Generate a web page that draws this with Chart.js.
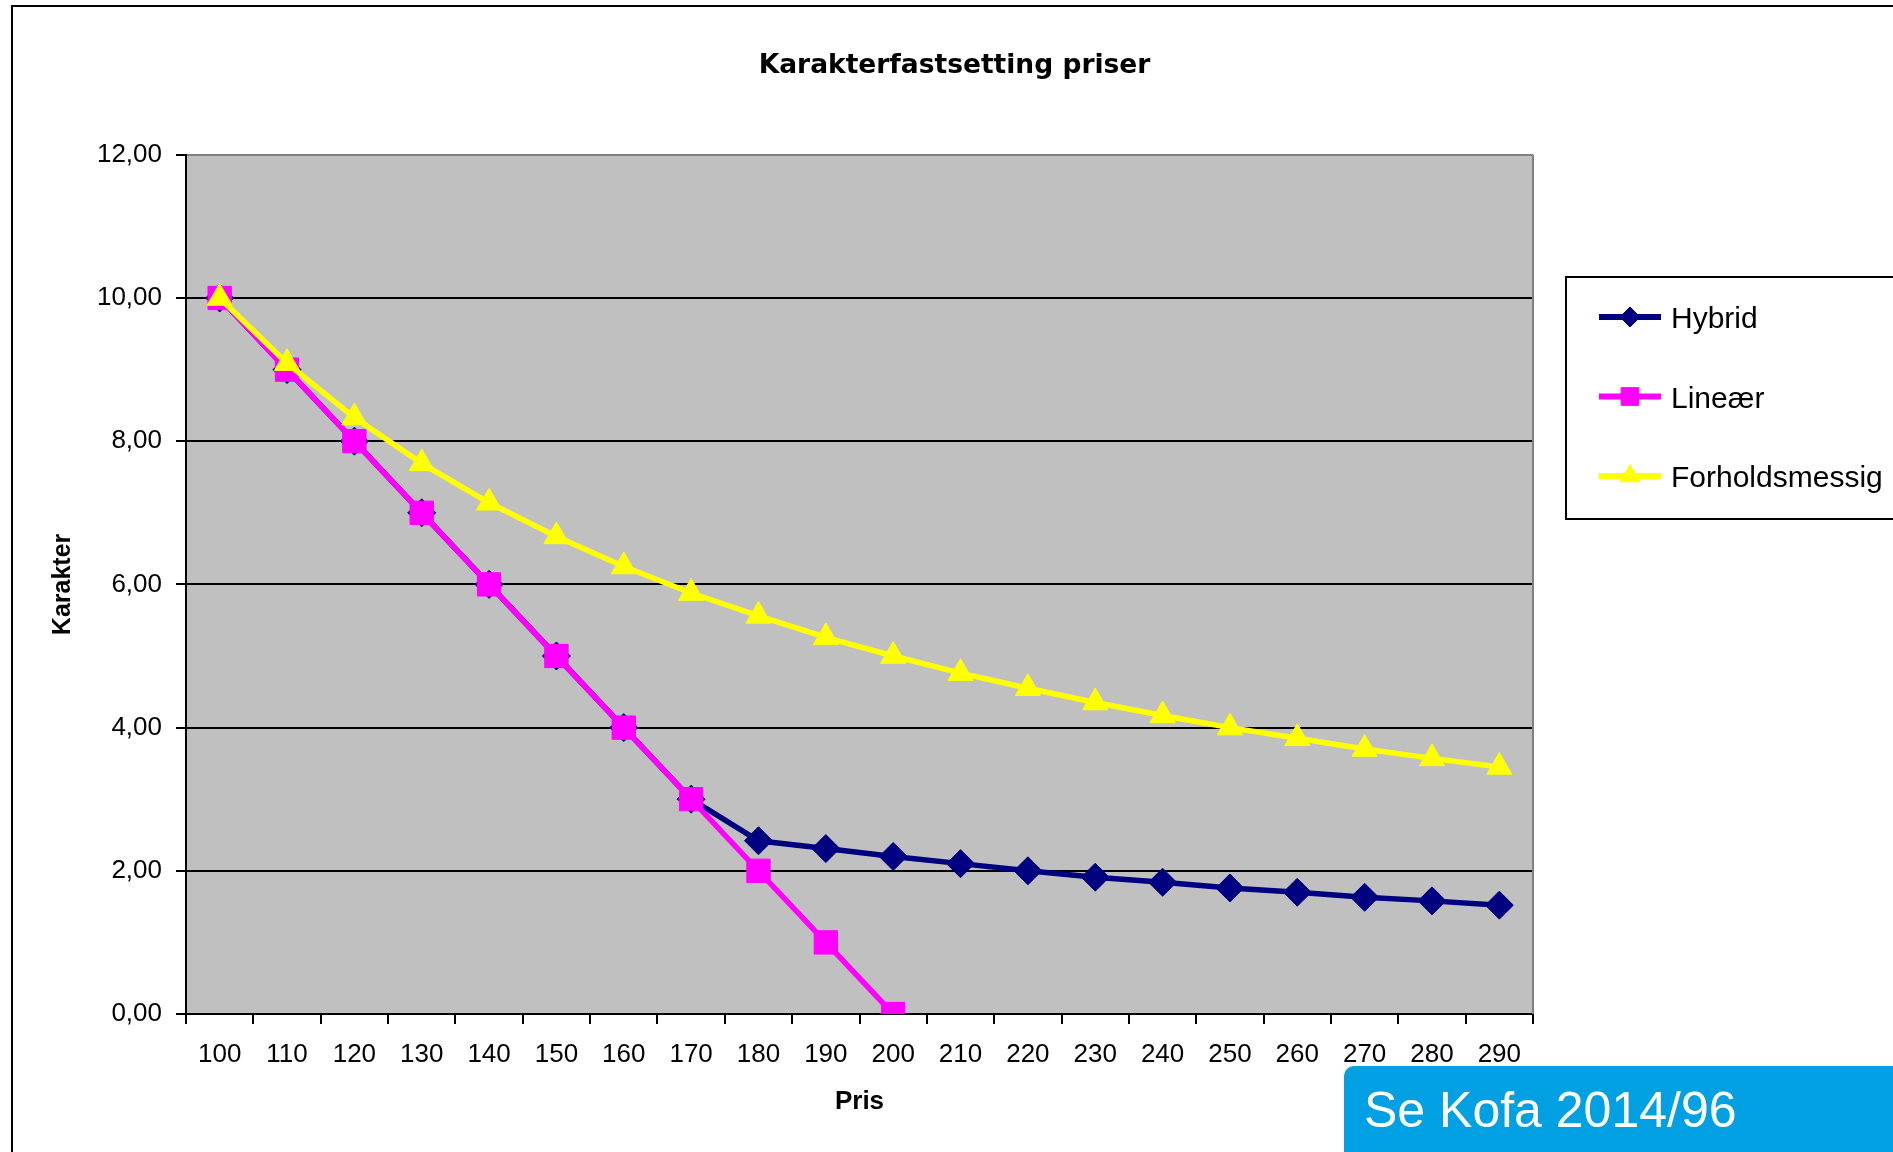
<!DOCTYPE html>
<html>
<head>
<meta charset="utf-8">
<title>Karakterfastsetting priser</title>
<script src="https://cdn.jsdelivr.net/npm/chart.js@4.4.1/dist/chart.umd.min.js"></script>
<style>
    html, body { margin: 0; padding: 0; background: #fff; overflow: hidden; }
    #wrap { position: relative; width: 1893px; height: 1152px; }
    #kofa {
        position: absolute; left: 1344px; top: 1066px; width: 600px; height: 120px;
        background: #00A0E3; border-radius: 10px;
    }
    #kofa span {
        position: absolute; left: 20px; top: 19px; color: #fff; white-space: nowrap;
        font: 50px/50px 'Liberation Sans', Arial, sans-serif;
    }
</style>
</head>
<body>
<div id="wrap">
    <canvas id="chart" width="1893" height="1152"></canvas>
    <div id="kofa"><span>Se Kofa 2014/96</span></div>
</div>
<script>
// Chart data
const prices = ['100', '110', '120', '130', '140', '150', '160', '170', '180', '190',
                '200', '210', '220', '230', '240', '250', '260', '270', '280', '290'];
const hybrid = [10, 9, 8, 7, 6, 5, 4, 3, 2.42, 2.31, 2.2, 2.1, 2.0, 1.91, 1.84, 1.76, 1.7, 1.63, 1.58, 1.52];
const linear = [10, 9, 8, 7, 6, 5, 4, 3, 2, 1, 0, null, null, null, null, null, null, null, null, null];
const ratio = [10, 9.09, 8.33, 7.69, 7.14, 6.67, 6.25, 5.88, 5.56, 5.26, 5.0, 4.76, 4.55, 4.35, 4.17, 4.0, 3.85, 3.7, 3.57, 3.45];
const yTicks = [0, 2, 4, 6, 8, 10, 12];

const FONT = "'Liberation Sans', Arial, sans-serif";

Chart.defaults.font.family = FONT;
Chart.defaults.color = '#000';

// Grey plot area, outer frame and the grey right edge of the plot
const framePlugin = {
    id: 'frame',
    beforeDraw(chart) {
        const { ctx, chartArea: a } = chart;
        ctx.save();
        ctx.fillStyle = '#C0C0C0';
        ctx.fillRect(a.left, a.top, a.right - a.left, a.bottom - a.top);
        ctx.strokeStyle = '#000';
        ctx.lineWidth = 2;
        ctx.beginPath();
        ctx.moveTo(12, chart.height + 5);
        ctx.lineTo(12, 6);
        ctx.lineTo(chart.width + 5, 6);
        ctx.stroke();
        ctx.restore();
    },
    beforeDatasetsDraw(chart) {
        const { ctx, chartArea: a } = chart;
        ctx.save();
        ctx.strokeStyle = '#808080';
        ctx.lineWidth = 2;
        ctx.beginPath();
        ctx.moveTo(a.right, a.top);
        ctx.lineTo(a.right, a.bottom);
        ctx.stroke();
        ctx.restore();
    }
};

// Boxed legend on the right, like the Excel one
const legendMarkers = [10, 12.5, 11.5];
const boxLegendPlugin = {
    id: 'boxLegend',
    afterDraw(chart) {
        const ctx = chart.ctx;
        ctx.save();
        ctx.fillStyle = '#fff';
        ctx.fillRect(1566, 277, 400, 242);
        ctx.strokeStyle = '#000';
        ctx.lineWidth = 2;
        ctx.strokeRect(1566, 277, 400, 242);

        chart.data.datasets.forEach((ds, i) => {
            const y = 317 + i * 79.5;
            ctx.strokeStyle = ds.borderColor;
            ctx.lineWidth = 6;
            ctx.beginPath();
            ctx.moveTo(1599, y);
            ctx.lineTo(1661, y);
            ctx.stroke();

            ctx.fillStyle = ds.pointBackgroundColor;
            ctx.strokeStyle = ds.pointBorderColor;
            ctx.lineWidth = 1;
            Chart.helpers.drawPoint(ctx, {
                pointStyle: ds.pointStyle,
                radius: legendMarkers[i],
                rotation: 0,
                borderWidth: 1
            }, 1630, y);

            ctx.fillStyle = '#000';
            ctx.font = '30px ' + FONT;
            ctx.textAlign = 'left';
            ctx.textBaseline = 'middle';
            ctx.fillText(ds.label, 1671, y + 3);
        });
        ctx.restore();
    }
};

function series(label, data, color, style, radius, order) {
    return {
        label: label,
        data: data,
        borderColor: color,
        backgroundColor: color,
        borderWidth: 5.5,
        pointStyle: style,
        pointRadius: radius,
        pointBackgroundColor: color,
        pointBorderColor: color,
        pointBorderWidth: 1,
        tension: 0,
        spanGaps: false,
        order: order
    };
}

new Chart(document.getElementById('chart'), {
    type: 'line',
    data: {
        labels: prices,
        datasets: [
            series('Hybrid', hybrid, '#000080', 'rectRot', 14, 3),
            series('Lineær', linear, '#FF00FF', 'rect', 16.5, 2),
            series('Forholdsmessig', ratio, '#FFFF00', 'triangle', 14.5, 1)
        ]
    },
    options: {
        responsive: false,
        devicePixelRatio: 1,
        animation: false,
        events: [],
        layout: { padding: { left: 16, right: 0, top: 0, bottom: 0 } },
        scales: {
            x: {
                type: 'category',
                offset: true,
                grid: {
                    display: true,
                    drawOnChartArea: false,
                    offset: true,
                    tickLength: 10,
                    color: '#000',
                    lineWidth: 2
                },
                border: { display: true, color: '#000', width: 2 },
                ticks: {
                    autoSkip: false,
                    maxRotation: 0,
                    padding: 15,
                    font: { size: 26 }
                },
                title: {
                    display: true,
                    text: 'Pris',
                    font: { size: 26, weight: 'bold' },
                    padding: { top: 0, bottom: 35 }
                },
                afterFit(scale) { scale.height = 138; }
            },
            y: {
                min: 0,
                max: 12,
                afterBuildTicks(scale) { scale.ticks = yTicks.map(v => ({ value: v })); },
                grid: {
                    color: ctx => (ctx.tick && ctx.tick.value === 12 ? '#808080' : '#000'),
                    tickColor: '#000',
                    lineWidth: 2,
                    tickLength: 10
                },
                border: { display: true, color: '#000', width: 2 },
                ticks: {
                    padding: 14,
                    font: { size: 26 },
                    callback: v => v.toFixed(2).replace('.', ',')
                },
                title: {
                    display: true,
                    text: 'Karakter',
                    font: { size: 25, weight: 'bold' },
                    padding: { top: 32, bottom: 0 }
                },
                afterFit(scale) { scale.width = 170; }
            },
            // empty right-hand axis only reserves room for the legend
            side: {
                type: 'linear',
                position: 'right',
                display: true,
                grid: { display: false },
                border: { display: false },
                ticks: { display: false },
                afterFit(scale) { scale.width = 360; }
            }
        },
        plugins: {
            legend: { display: false },
            tooltip: { enabled: false },
            title: {
                display: true,
                text: 'Karakterfastsetting priser',
                font: { family: "'DejaVu Sans', " + FONT, size: 26.5, weight: 'bold' },
                padding: { top: 50, bottom: 73 }
            }
        }
    },
    plugins: [framePlugin, boxLegendPlugin]
});
</script>
</body>
</html>
